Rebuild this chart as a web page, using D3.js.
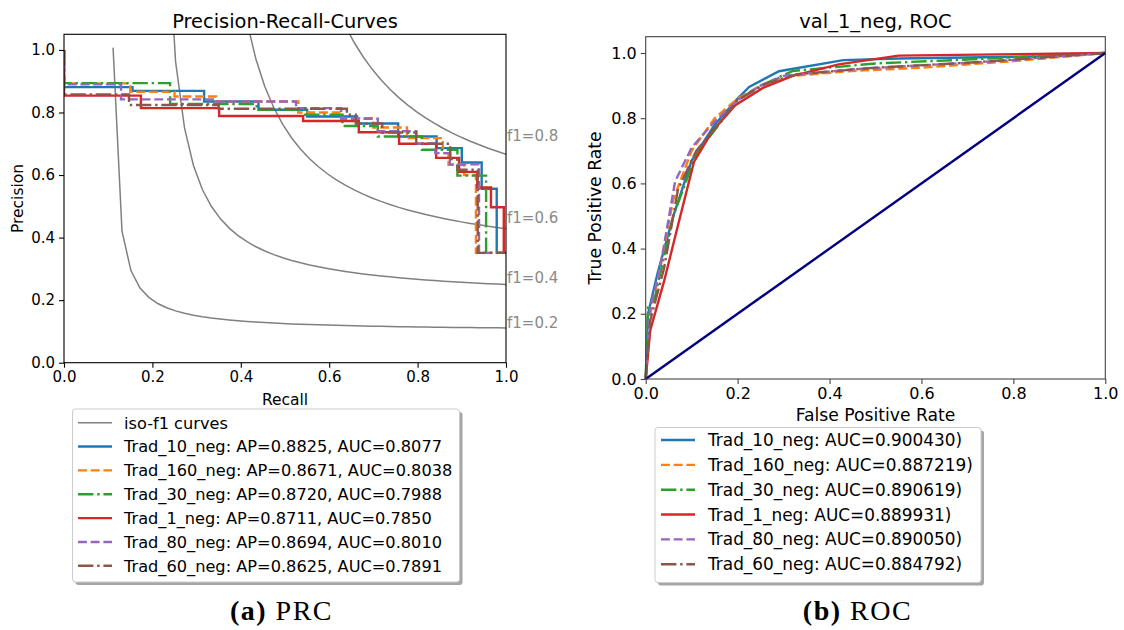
<!DOCTYPE html>
<html>
<head>
<meta charset="utf-8">
<script src="https://cdn.jsdelivr.net/npm/d3@7"></script>
<style>
body { margin: 0; background: #fff; }
svg { display: block; }
text { font-family: "DejaVu Sans", sans-serif; fill: #000; }
</style>
</head>
<body>
<svg id="fig" width="1124" height="630"></svg>
<script>
// ---- data ----
var seriesNames = ["Trad_10_neg", "Trad_160_neg", "Trad_30_neg", "Trad_1_neg", "Trad_80_neg", "Trad_60_neg"];
var apValues  = ["0.8825", "0.8671", "0.8720", "0.8711", "0.8694", "0.8625"];
var prAuc     = ["0.8077", "0.8038", "0.7988", "0.7850", "0.8010", "0.7891"];
var rocAuc    = ["0.900430", "0.887219", "0.890619", "0.889931", "0.890050", "0.884792"];

// precision-recall step curves (recall where a level starts, precision of that level)
var prRecall = [
  [0, 0, 0.155, 0.317, 0.44, 0.55, 0.663, 0.756, 0.843, 0.90, 0.945, 0.979, 1.0],
  [0, 0, 0.15, 0.25, 0.344, 0.53, 0.63, 0.70, 0.776, 0.857, 0.87, 0.905, 0.932, 1.0],
  [0, 0, 0.24, 0.436, 0.546, 0.63, 0.71, 0.81, 0.89, 0.955, 1.0],
  [0, 0, 0.174, 0.351, 0.541, 0.667, 0.758, 0.842, 0.894, 0.935, 0.966, 0.995, 1.0],
  [0, 0, 0.129, 0.34, 0.525, 0.627, 0.71, 0.797, 0.84, 0.873, 0.939, 1.0],
  [0, 0, 0.147, 0.35, 0.64, 0.66, 0.72, 0.797, 0.874, 0.89, 0.936, 1.0]
];
var prPrecision = [
  [1.0, 0.881, 0.869, 0.835, 0.809, 0.787, 0.765, 0.723, 0.686, 0.64, 0.556, 0.351, 0.351],
  [1.0, 0.893, 0.866, 0.851, 0.835, 0.80, 0.782, 0.752, 0.718, 0.67, 0.633, 0.60, 0.351, 0.351],
  [1.0, 0.894, 0.827, 0.809, 0.793, 0.757, 0.723, 0.681, 0.598, 0.351, 0.351],
  [1.0, 0.854, 0.814, 0.789, 0.773, 0.737, 0.70, 0.655, 0.61, 0.56, 0.497, 0.351, 0.351],
  [1.0, 0.89, 0.842, 0.835, 0.814, 0.78, 0.74, 0.70, 0.67, 0.634, 0.351, 0.351],
  [1.0, 0.858, 0.824, 0.812, 0.793, 0.765, 0.736, 0.70, 0.651, 0.617, 0.351, 0.351]
];

// ROC curves
var rocFpr = [
  [0, 0.005, 0.025, 0.06, 0.10, 0.15, 0.20, 0.225, 0.29, 0.43, 0.55, 0.87, 1.0],
  [0, 0.01, 0.03, 0.06, 0.10, 0.15, 0.20, 0.25, 0.32, 0.45, 0.60, 0.80, 1.0],
  [0, 0.005, 0.02, 0.06, 0.11, 0.20, 0.25, 0.32, 0.50, 0.70, 1.0],
  [0, 0.01, 0.04, 0.07, 0.105, 0.145, 0.195, 0.255, 0.32, 0.42, 0.55, 1.0],
  [0, 0.01, 0.03, 0.064, 0.10, 0.15, 0.20, 0.25, 0.30, 0.45, 0.60, 0.80, 1.0],
  [0, 0.01, 0.04, 0.07, 0.11, 0.20, 0.26, 0.33, 0.50, 0.70, 1.0]
];
var rocTpr = [
  [0, 0.20, 0.32, 0.50, 0.67, 0.78, 0.86, 0.896, 0.944, 0.978, 0.983, 0.99, 1.0],
  [0, 0.20, 0.33, 0.55, 0.70, 0.80, 0.86, 0.90, 0.93, 0.945, 0.955, 0.975, 1.0],
  [0, 0.22, 0.25, 0.50, 0.69, 0.855, 0.90, 0.945, 0.968, 0.98, 1.0],
  [0, 0.15, 0.30, 0.47, 0.666, 0.76, 0.84, 0.893, 0.93, 0.965, 0.992, 1.0],
  [0, 0.22, 0.33, 0.606, 0.71, 0.79, 0.855, 0.90, 0.93, 0.95, 0.962, 0.978, 1.0],
  [0, 0.18, 0.34, 0.58, 0.70, 0.855, 0.905, 0.935, 0.955, 0.97, 1.0]
];
var chanceFpr = [0, 1];
var chanceTpr = [0, 1];

var f1Scores = [0.2, 0.4, 0.6, 0.8];
var tickValues = [0, 0.2, 0.4, 0.6, 0.8, 1.0];

// ---- styles ----
var colors = ["#1f77b4", "#ff7f0e", "#2ca02c", "#d62728", "#9467bd", "#8c564b"];
var dashes = [null, "8.9,3.8", "15.4,3.8,2.4,3.8", null, "8.9,3.8", "15.4,3.8,2.4,3.8"];
var lw = 2.4;

var svg = d3.select("#fig");

function frame(g, x, y, spineColor, fs) {
  var xa = g.append("g").attr("transform", "translate(0," + y.range()[0] + ")")
    .call(d3.axisBottom(x).tickValues(tickValues).tickFormat(d3.format(".1f")).tickSize(5).tickPadding(4));
  var ya = g.append("g").attr("transform", "translate(" + x.range()[0] + ",0)")
    .call(d3.axisLeft(y).tickValues(tickValues).tickFormat(d3.format(".1f")).tickSize(5).tickPadding(4));
  [xa, ya].forEach(function(a) {
    a.select(".domain").remove();
    a.selectAll("line").attr("stroke", spineColor).attr("stroke-width", 1.1);
    a.selectAll("text").attr("font-size", fs).attr("font-family", "DejaVu Sans").attr("fill", "#000");
  });
  g.append("rect")
    .attr("x", x.range()[0]).attr("y", y.range()[1])
    .attr("width", x.range()[1] - x.range()[0]).attr("height", y.range()[0] - y.range()[1])
    .attr("fill", "none").attr("stroke", spineColor).attr("stroke-width", 1.1);
}

function legend(g, box, rows, fs) {
  g.append("rect").attr("x", box.x + 3).attr("y", box.y + 3).attr("width", box.w).attr("height", box.h)
    .attr("rx", 3).attr("fill", "#4d4d4d").attr("opacity", 0.5);
  g.append("rect").attr("x", box.x).attr("y", box.y).attr("width", box.w).attr("height", box.h)
    .attr("rx", 3).attr("fill", "#fff").attr("stroke", "#cccccc").attr("stroke-width", 1);
  rows.forEach(function(r, i) {
    var yy = box.row0 + i * box.step;
    g.append("line").attr("x1", box.h0).attr("x2", box.h1).attr("y1", yy).attr("y2", yy)
      .attr("stroke", r.color).attr("stroke-width", r.width).attr("stroke-dasharray", r.dash);
    g.append("text").attr("x", box.tx).attr("y", yy).attr("dy", "0.36em")
      .attr("font-size", fs).text(r.label);
  });
}

// ================= (a) Precision-Recall =================
var px = d3.scaleLinear().domain([0, 1]).range([64, 506]);
var py = d3.scaleLinear().domain([0, 1.05]).range([362.7, 34.3]);
var gA = svg.append("g");

gA.append("clipPath").attr("id", "clipA").append("rect")
  .attr("x", px(0)).attr("y", py(1.05)).attr("width", px(1) - px(0)).attr("height", py(0) - py(1.05));

// iso-f1 reference curves, defined by their f1 score
var recallGrid = d3.range(50).map(function(i) { return 0.01 + i * 0.99 / 49; });
var isoLine = d3.line().x(function(d) { return px(d[0]); }).y(function(d) { return py(d[1]); });
f1Scores.forEach(function(f) {
  var pts = recallGrid.map(function(r) { return [r, f * r / (2 * r - f)]; });
  gA.append("path").datum(pts.filter(function(d) { return d[1] >= 0; }))
    .attr("clip-path", "url(#clipA)")
    .attr("d", isoLine).attr("fill", "none").attr("stroke", "#808080").attr("stroke-width", 1.5);
  gA.append("text").attr("x", px(1) + 1).attr("y", py(pts[45][1]))
    .attr("font-size", 15).style("fill", "#8a8a8a").text("f1=" + f.toFixed(1));
});

var stepLine = d3.line().curve(d3.curveStepAfter)
  .x(function(d) { return px(d[0]); }).y(function(d) { return py(d[1]); });
seriesNames.forEach(function(name, i) {
  var pts = prRecall[i].map(function(r, j) { return [r, prPrecision[i][j]]; });
  gA.append("path").datum(pts).attr("d", stepLine).attr("clip-path", "url(#clipA)")
    .attr("fill", "none").attr("stroke", colors[i]).attr("stroke-width", lw)
    .attr("stroke-dasharray", dashes[i]);
});

frame(gA, px, py, "#000", 15);

gA.append("text").attr("x", 285).attr("y", 27.5).attr("text-anchor", "middle")
  .attr("font-size", 19.4).text("Precision-Recall-Curves");
gA.append("text").attr("x", 285).attr("y", 405).attr("text-anchor", "middle")
  .attr("font-size", 15.5).text("Recall");
gA.append("text").attr("transform", "translate(23,198.5) rotate(-90)").attr("text-anchor", "middle")
  .attr("font-size", 15.5).text("Precision");

var rowsA = [{ label: "iso-f1 curves", color: "#808080", dash: null, width: 1.5 }].concat(
  seriesNames.map(function(n, i) {
    return { label: n + ": AP=" + apValues[i] + ", AUC=" + prAuc[i], color: colors[i], dash: dashes[i], width: lw };
  }));
legend(gA, { x: 72.5, y: 409, w: 387, h: 173, row0: 422.7, step: 23.85, h0: 78, h1: 112, tx: 124 }, rowsA, 16.2);

// ================= (b) ROC =================
var rx = d3.scaleLinear().domain([0, 1]).range([645.7, 1105.3]);
var ry = d3.scaleLinear().domain([0, 1.05]).range([379, 36.7]);
var gB = svg.append("g");

var rocLine = d3.line().x(function(d) { return rx(d[0]); }).y(function(d) { return ry(d[1]); });
seriesNames.forEach(function(name, i) {
  var pts = rocFpr[i].map(function(f, j) { return [f, rocTpr[i][j]]; });
  gB.append("path").datum(pts).attr("d", rocLine)
    .attr("fill", "none").attr("stroke", colors[i]).attr("stroke-width", lw)
    .attr("stroke-dasharray", dashes[i]);
});
gB.append("path").datum(chanceFpr.map(function(f, j) { return [f, chanceTpr[j]]; }))
  .attr("d", rocLine).attr("fill", "none").attr("stroke", "#000080").attr("stroke-width", lw);

frame(gB, rx, ry, "#444", 16);

gB.append("text").attr("x", 875.5).attr("y", 28).attr("text-anchor", "middle")
  .attr("font-size", 19.5).text("val_1_neg, ROC");
gB.append("text").attr("x", 875.5).attr("y", 421).attr("text-anchor", "middle")
  .attr("font-size", 17.2).text("False Positive Rate");
gB.append("text").attr("transform", "translate(601,208) rotate(-90)").attr("text-anchor", "middle")
  .attr("font-size", 17.2).text("True Positive Rate");

var rowsB = seriesNames.map(function(n, i) {
  return { label: n + ": AUC=" + rocAuc[i] + ")", color: colors[i], dash: dashes[i], width: lw };
});
legend(gB, { x: 655, y: 427.5, w: 326, h: 155, row0: 440, step: 24.85, h0: 661, h1: 695, tx: 708 }, rowsB, 16.9);

// ================= captions =================
var cap = svg.append("g");
[["(a)", " PRC", 281.5], ["(b)", " ROC", 857.5]].forEach(function(c) {
  var t = cap.append("text").attr("x", c[2]).attr("y", 620).attr("text-anchor", "middle")
    .attr("font-size", 28).attr("letter-spacing", 1.5)
    .style("font-family", "'Liberation Serif', serif");
  t.append("tspan").attr("font-weight", "bold").text(c[0]);
  t.append("tspan").text(c[1]);
});
</script>
</body>
</html>
